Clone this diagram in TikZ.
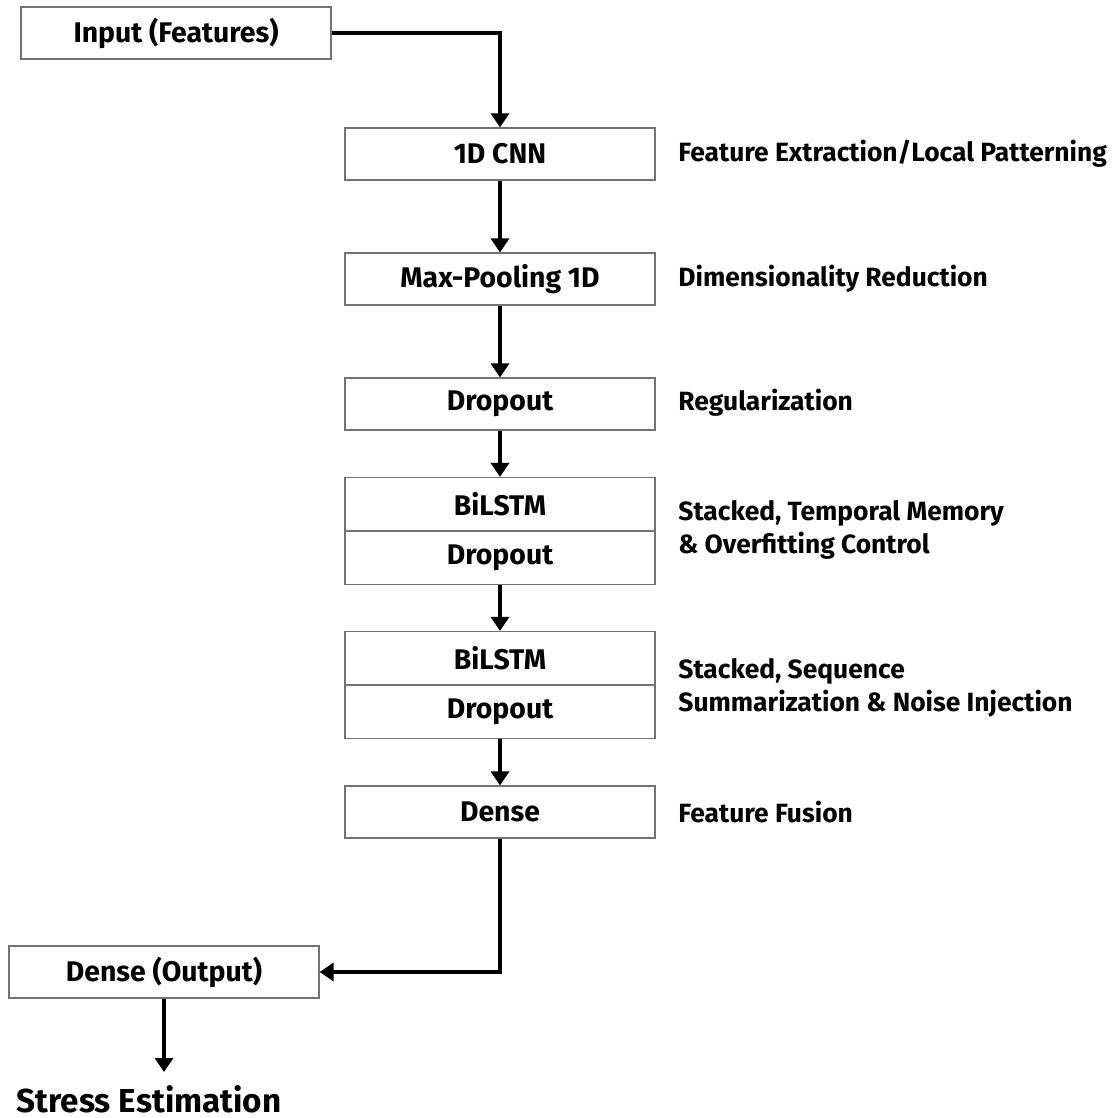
\documentclass[tikz,border=0pt]{standalone}
\usepackage{fontspec}
\setmainfont{Fira Sans}
\usetikzlibrary{arrows.meta, positioning}
\tikzset{
  layerbox/.style={
    draw=black!55,
    fill=white,
    line width=0.6pt,
    minimum width=155pt,
    minimum height=26pt,
    inner sep=0pt,
    font=\bfseries\fontsize{14.2}{16}\selectfont,
  },
  notelabel/.style={
    anchor=west,
    align=left,
    inner sep=0pt,
    font=\bfseries\fontsize{13.2}{16.5}\selectfont,
  },
  arr/.style={-{Triangle[width=9pt, length=7pt]}, line width=1.7pt, draw=black},
}

\begin{document}
\begin{tikzpicture}[x=0.5pt, y=-0.5pt]
\useasboundingbox (0,0) rectangle (1117,1118);

% --- Layers ---
\node[layerbox] (input) at (176, 33) {Input (Features)};
\node[layerbox] (cnn) at (500, 154) {1D CNN};
\node[layerbox] (pool) at (500, 279) {Max-Pooling 1D};
\node[layerbox] (drop1) at (500, 404) {Dropout};
\node[layerbox, minimum height=26.5pt] (bilstm1) at (500, 504) {BiLSTM};
\node[layerbox, minimum height=26.5pt, below=0pt of bilstm1] (drop2) {Dropout};
\node[layerbox, minimum height=26.5pt] (bilstm2) at (500, 658) {BiLSTM};
\node[layerbox, minimum height=26.5pt, below=0pt of bilstm2] (drop3) {Dropout};
\node[layerbox] (dense) at (500, 812) {Dense};
\node[layerbox] (output) at (164, 972) {Dense (Output)};
\node[font=\bfseries\fontsize{16.6}{18}\selectfont, inner sep=0pt] (stress) at (149, 1099) {Stress Estimation};
\coordinate (stresstop) at (164, 1072);

% --- Notes ---
\node[notelabel] (n1) at (678, 154) {Feature Extraction/Local Patterning};
\node[notelabel] (n2) at (678, 279) {Dimensionality Reduction};
\node[notelabel] (n3) at (678, 403) {Regularization};
\node[notelabel] (n4) at (678, 530) {Stacked, Temporal Memory\\\& Overfitting Control};
\node[notelabel] (n5) at (678, 688) {Stacked, Sequence\\Summarization \& Noise Injection};
\node[notelabel] (n6) at (678, 812) {Feature Fusion};

% --- Arrows ---
\draw[arr] (input.east) -| (cnn.north);
\draw[arr] (cnn.south) -- (pool.north);
\draw[arr] (pool.south) -- (drop1.north);
\draw[arr] (drop1.south) -- (bilstm1.north);
\draw[arr] (drop2.south) -- (bilstm2.north);
\draw[arr] (drop3.south) -- (dense.north);
\draw[arr] (dense.south) |- (output.east);
\draw[arr] (output.south) -- (stresstop);

\end{tikzpicture}
\end{document}
